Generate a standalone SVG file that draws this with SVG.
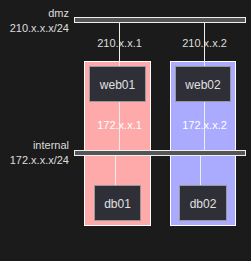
<svg xmlns="http://www.w3.org/2000/svg" width="251" height="261" viewBox="0 0 251 261">
<style>
text{font-family:"Liberation Sans",Arial,sans-serif;font-size:11px;fill:#dddddd}
.r{text-anchor:end}
.m{text-anchor:middle}
.w{fill:#ffffff}
.bar{fill:#555555;stroke:#eeeeee;stroke-width:1}
.node rect{fill:#2f2f38;stroke:#999999;stroke-width:1}
.node text{font-size:12px;fill:#e0e0e0;text-anchor:middle}
.c line{stroke:#eeeeee;stroke-width:1}
</style>
<rect width="251" height="261" fill="#1b1b1b"/>
<g id="group1"><rect x="84.5" y="61.5" width="66" height="164" fill="#ffaaaa" stroke="#ffffff"/></g>
<g id="group2"><rect x="170.5" y="61.5" width="65" height="164" fill="#aaaaff" stroke="#ffffff"/></g>
<g class="c" id="connectors">
<line x1="119.5" y1="22" x2="119.5" y2="151"/>
<line x1="204.5" y1="22" x2="204.5" y2="151"/>
<line x1="115.5" y1="155" x2="115.5" y2="186"/>
<line x1="200.5" y1="155" x2="200.5" y2="186"/>
</g>
<g id="dmz">
<rect class="bar" x="74.5" y="17.5" width="171" height="5"/>
<text class="r" x="69" y="16.7">dmz</text>
<text class="r" x="69" y="32.3">210.x.x.x/24</text>
</g>
<g id="internal">
<rect class="bar" x="74.5" y="150.5" width="171" height="5"/>
<text class="r" x="69" y="149.3">internal</text>
<text class="r" x="69" y="164.3">172.x.x.x/24</text>
</g>
<text class="m" x="119.5" y="46.7">210.x.x.1</text>
<text class="m" x="204.5" y="46.7">210.x.x.2</text>
<text class="m w" x="119.5" y="129.3">172.x.x.1</text>
<text class="m w" x="204.5" y="129.3">172.x.x.2</text>
<g class="node" id="web01"><rect x="89.5" y="66.5" width="56" height="35"/><text x="117.5" y="88.5">web01</text></g>
<g class="node" id="web02"><rect x="175.5" y="66.5" width="55" height="35"/><text x="203" y="88.5">web02</text></g>
<g class="node" id="db01"><rect x="94.5" y="185.5" width="46" height="35"/><text x="117.5" y="207.5">db01</text></g>
<g class="node" id="db02"><rect x="179.5" y="185.5" width="47" height="35"/><text x="203" y="207.5">db02</text></g>
</svg>
